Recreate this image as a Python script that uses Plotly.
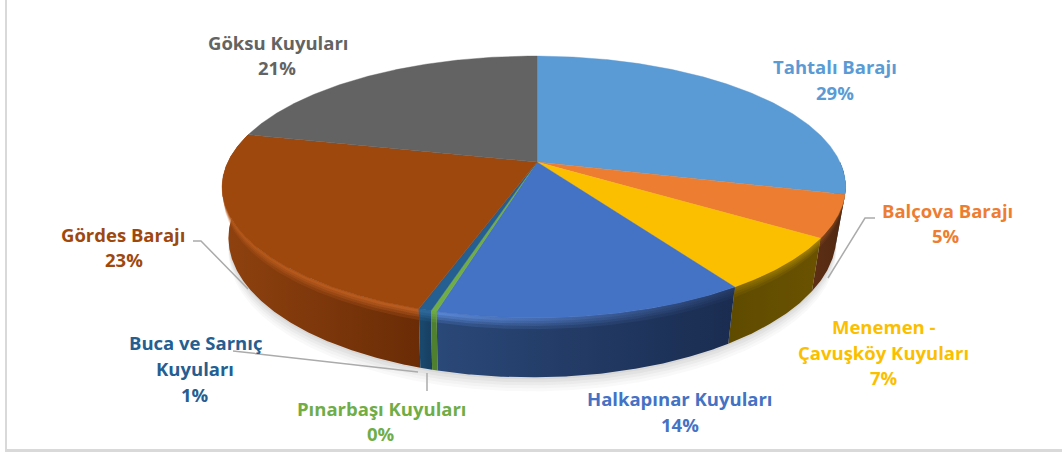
import numpy as np
import plotly.graph_objects as go

# ---- data ----
categories = ["Tahtalı Barajı", "Balçova Barajı", "Menemen - Çavuşköy Kuyuları", "Halkapınar Kuyuları",
              "Pınarbaşı Kuyuları", "Buca ve Sarnıç Kuyuları", "Gördes Barajı", "Göksu Kuyuları"]
shares = [29.0, 5.2, 6.6, 13.5, 0.25, 0.55, 23.5, 21.4]
percent_labels = ["29%", "5%", "7%", "14%", "0%", "1%", "23%", "21%"]

# ---- styles ----
face_colors = ["#5B9BD5", "#ED7D31", "#FBBF00", "#4472C4", "#70AD47", "#255E91", "#9E480E", "#636363"]
wall_colors = [("#335878", "#2B4A66"), ("#5E3015", "#4F2710"), ("#5F4B00", "#6A5200"), ("#2A4878", "#1A2C50"),
               ("#4F8030", "#4F8030"), ("#1A4A70", "#173E60"), ("#8F420F", "#6A2C06"), ("#444444", "#444444")]
band_colors = [("#3A6A95", "#2F5878"), ("#8A4A1E", "#6A3A18"), ("#8A6C00", "#A88600"), ("#5E8EE0", "#253C68"),
               ("#70AD47", "#70AD47"), ("#2F6C9F", "#2F6C9F"), ("#B85A1A", "#C46224"), ("#636363", "#636363")]
text_lines = [
    [("Tahtalı Barajı", 835, 66.5), ("29%", 835, 92.5)],
    [("Balçova Barajı", 947, 210.5), ("5%", 946, 235.5)],
    [("Menemen -", 884, 326.5), ("Çavuşköy Kuyuları", 883, 352.5), ("7%", 884, 377.5)],
    [("Halkapınar Kuyuları", 680, 398.5), ("14%", 680, 424.5)],
    [("Pınarbaşı Kuyuları", 382, 408.5), ("0%", 381, 433.5)],
    [("Buca ve Sarnıç", 195.5, 342.5), ("Kuyuları", 195, 368.5), ("1%", 195, 394.5)],
    [("Gördes Barajı", 123, 234.5), ("23%", 124, 259.5)],
    [("Göksu Kuyuları", 277.5, 42.5), ("21%", 277, 67.5)],
]
leaders = [
    ([193, 201, 248], [241, 241, 289]),
    ([233, 418], [351, 372]),
    ([427, 427], [373, 391]),
    ([875, 865, 828], [218, 218, 278]),
]

# ---- projection: a tilted disc seen in perspective ----
X0, Y0 = 537, 162
B, A = 306, 126.2
P, Q = 0.191, -0.01
DEPTH = 48


def project(deg, drop=0.0):
    a = np.radians(np.asarray(deg, dtype=float))
    c, t = np.sin(a), -np.cos(a)
    d = 1 - P * t - Q * c
    k = drop / DEPTH
    return X0 - 1.5 * k + (1 - 0.025 * k) * B * c / d, Y0 + (A * t + drop) / d


edges = 3.6 * np.concatenate([[0], np.cumsum(shares)])
fig = go.Figure()


def arc(a0, a1):
    return np.linspace(a0, a1, max(3, int(abs(a1 - a0) * 3)))


def hex_alpha(col, alpha):
    return f"rgba({int(col[1:3], 16)},{int(col[3:5], 16)},{int(col[5:7], 16)},{alpha})"


# soft shadow below the disc
sx, sy = project(arc(80, 292), DEPTH)
for off, alpha in [(14, 0.035), (11, 0.04), (8, 0.05), (5, 0.06), (2, 0.07)]:
    fig.add_trace(go.Scatter(x=np.append(sx, sx[0]), y=np.append(sy + off, sy[0] + off), mode="lines",
                             line=dict(width=0), fill="toself", fillcolor=f"rgba(90,90,90,{alpha})",
                             hoverinfo="skip"))

# side walls, back to front, with a soft bright bevel along the rim
order = [0, 1, 2, 6, 5, 3, 4]
for i in order:
    a0, a1 = max(edges[i], 90), min(edges[i + 1], 284)
    if a1 <= a0:
        continue
    ang = arc(a0, a1)
    tx, ty = project(ang)
    bx, by = project(ang, DEPTH)
    fig.add_trace(go.Scatter(x=np.r_[tx, bx[::-1], tx[0]], y=np.r_[ty, by[::-1], ty[0]], mode="lines",
                             line=dict(width=0), fill="toself",
                             fillgradient=dict(type="horizontal",
                                               colorscale=[[0, wall_colors[i][0]], [1, wall_colors[i][1]]]),
                             hoverinfo="skip"))
    for drop, alpha in [(9, 0.22), (6.5, 0.3), (4.5, 0.4), (2.5, 0.6)]:
        mx, my = project(ang, drop)
        fig.add_trace(go.Scatter(x=np.r_[tx, mx[::-1], tx[0]], y=np.r_[ty, my[::-1], ty[0]], mode="lines",
                                 line=dict(width=0), fill="toself",
                                 fillgradient=dict(type="horizontal",
                                                   colorscale=[[0, hex_alpha(band_colors[i][0], alpha)],
                                                               [1, hex_alpha(band_colors[i][1], alpha)]]),
                                 hoverinfo="skip"))

# top faces
for i, col in enumerate(face_colors):
    ang = arc(edges[i], edges[i + 1])
    fx, fy = project(ang)
    fig.add_trace(go.Scatter(x=np.r_[X0, fx, X0], y=np.r_[Y0, fy, Y0], mode="lines",
                             line=dict(width=0.4, color=col), fill="toself", fillcolor=col,
                             name=categories[i], text=f"{categories[i]}: {percent_labels[i]}", hoverinfo="text"))

# leader lines
for lx, ly in leaders:
    fig.add_trace(go.Scatter(x=lx, y=ly, mode="lines", line=dict(color="#ABABAB", width=1.5), hoverinfo="skip"))

annotations = []
for lines, col in zip(text_lines, face_colors):
    for txt, x, y in lines:
        annotations.append(dict(x=x, y=y, text=txt, showarrow=False, xanchor="center", yanchor="middle",
                                font=dict(family="Open Sans", size=18.5, color=col, weight=700)))

shapes = [
    dict(type="line", x0=6, x1=6, y0=0, y1=450, line=dict(color="#D9D9D9", width=2)),
    dict(type="line", x0=5, x1=1062, y0=450.5, y1=450.5, line=dict(color="#D9D9D9", width=3)),
]

fig.update_layout(width=1062, height=452, margin=dict(l=0, r=0, t=0, b=0), autosize=False,
                  showlegend=False, paper_bgcolor="white", plot_bgcolor="white",
                  annotations=annotations, shapes=shapes,
                  xaxis=dict(range=[0, 1062], visible=False, fixedrange=True),
                  yaxis=dict(range=[452, 0], visible=False, fixedrange=True))
fig.write_html("out.html", config=dict(displayModeBar=False),
               post_script="document.body.style.margin='0';document.body.style.overflow='hidden';")
